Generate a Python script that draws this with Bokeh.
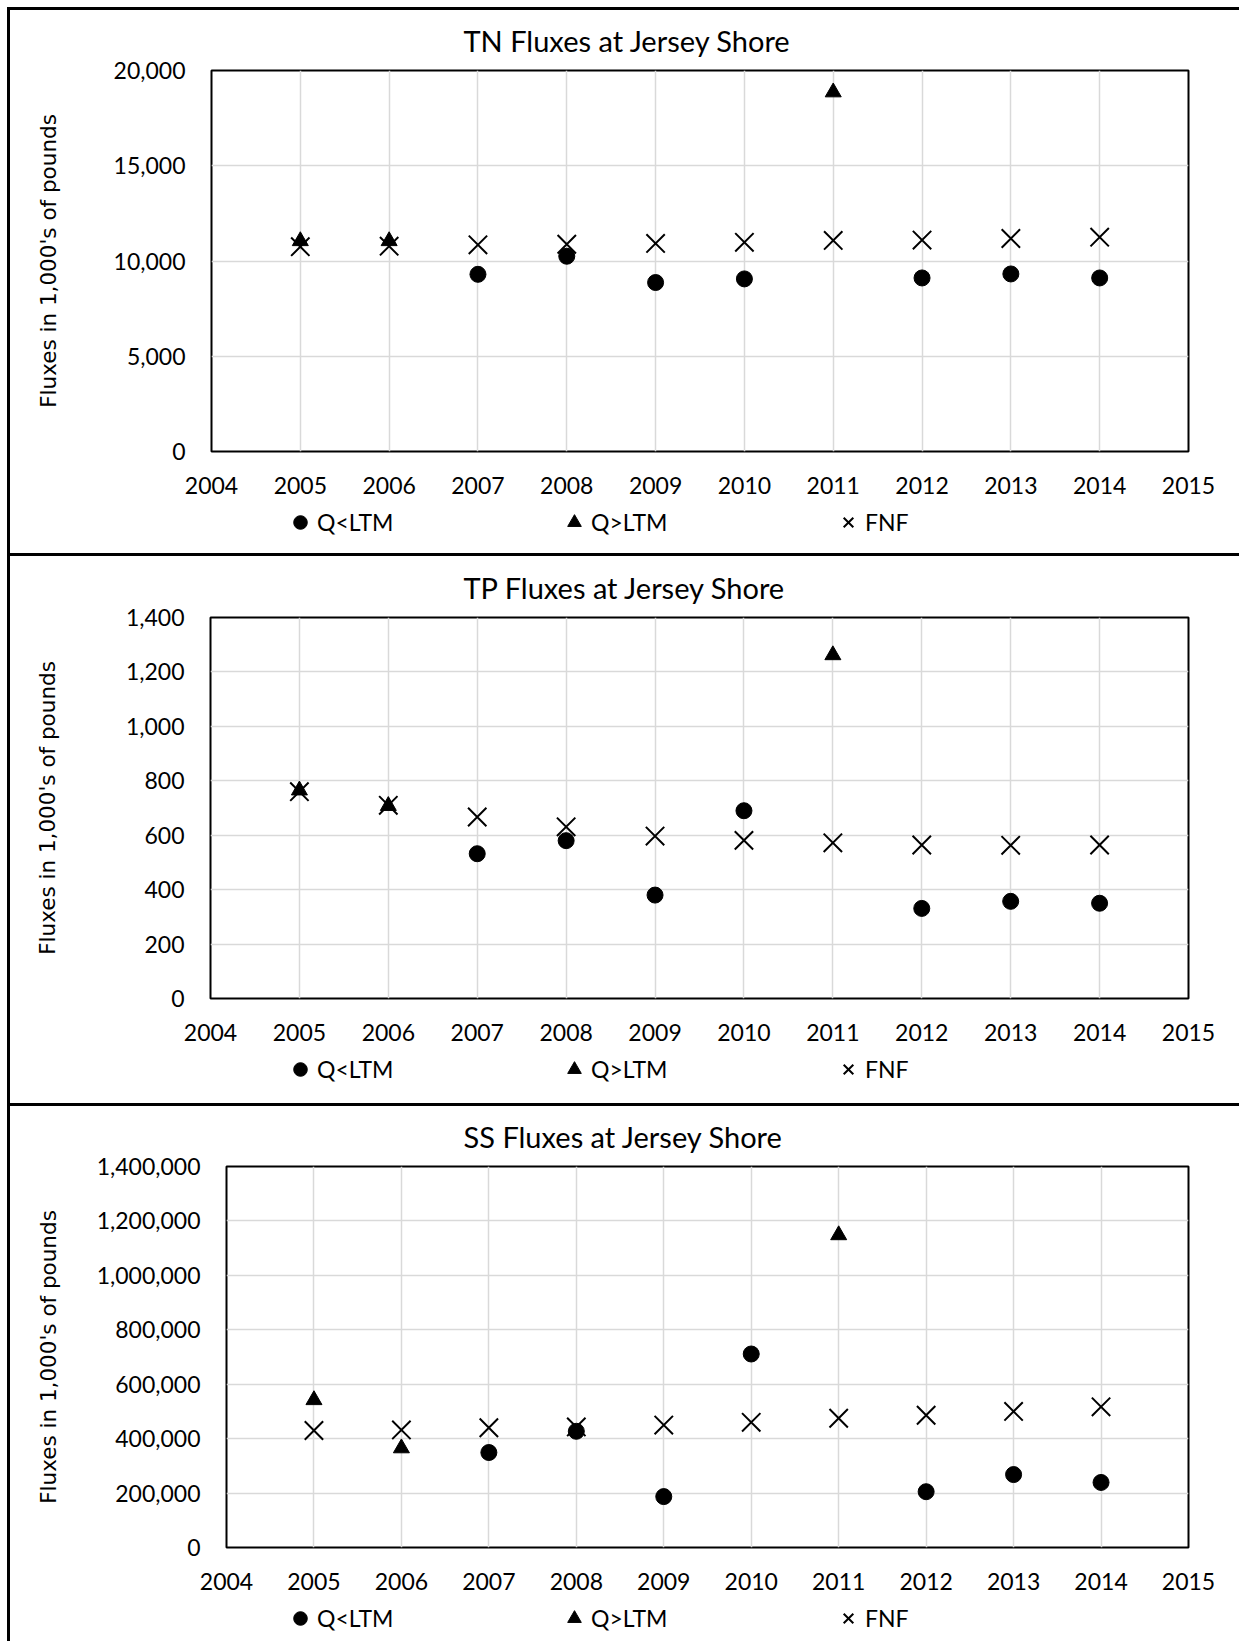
from bokeh.plotting import figure
from bokeh.models import FixedTicker, NumeralTickFormatter, Legend, LegendItem, Range1d
from bokeh.layouts import column, row
from bokeh.embed import file_html
from bokeh.resources import INLINE

# ---------------- data ----------------
x_ticks = list(range(2004, 2016))
fnf_years = list(range(2005, 2015))
lt_years = [2007, 2008, 2009, 2010, 2012, 2013, 2014]
gt_years = [2005, 2006, 2011]

tn_title = "TN Fluxes at Jersey Shore"
tn_lt = [9300, 10250, 8870, 9060, 9110, 9320, 9110]
tn_gt = [11050, 11050, 18860]
tn_fnf = [10750, 10780, 10850, 10880, 10920, 10980, 11080, 11100, 11180, 11250]
tn_ticks = [0, 5000, 10000, 15000, 20000]

tp_title = "TP Fluxes at Jersey Shore"
tp_lt = [532, 580, 380, 690, 331, 357, 350]
tp_gt = [765, 708, 1262]
tp_fnf = [760, 710, 667, 631, 597, 581, 572, 564, 563, 564]
tp_ticks = [0, 200, 400, 600, 800, 1000, 1200, 1400]

ss_title = "SS Fluxes at Jersey Shore"
ss_lt = [349000, 427000, 187000, 711000, 205000, 268000, 239000]
ss_gt = [542000, 365000, 1148000]
ss_fnf = [430000, 432000, 440000, 443000, 450000, 460000, 475000, 486000, 500000, 517000]
ss_ticks = [0, 200000, 400000, 600000, 800000, 1000000, 1200000, 1400000]

y_label = "Fluxes in 1,000's of pounds"
legend_labels = ["Q<LTM", "Q>LTM", "FNF"]

FONT = "Lato"
W = 1232
MBR = 54

MARK_FNF = dict(marker="x", size=26, line_color="black", line_width=2)
MARK_GT = dict(marker="triangle", size=16, color="black")
MARK_LT = dict(marker="circle", size=16, color="black")


def make_panel(title, lt, gt, fnf, ticks, height, mbl, mbt, mbb, label_standoff,
               title_offset, margin_top):
    p = figure(width=W, height=height, x_range=(x_ticks[0], x_ticks[-1]),
               y_range=(ticks[0], ticks[-1]), output_backend="svg",
               toolbar_location=None, min_border_left=mbl, min_border_right=MBR,
               min_border_top=mbt, min_border_bottom=mbb,
               background_fill_color="white", border_fill_color="white",
               styles={"border-top": "3px solid black",
                       "border-left": "3px solid black",
                       "margin-left": "7px",
                       "margin-top": f"{margin_top}px"})
    p.title.text = title
    p.title.text_font = FONT
    p.title.text_font_size = "29px"
    p.title.text_font_style = "normal"
    p.title.text_color = "black"
    p.title.align = "left"
    p.title.vertical_align = "top"
    p.title.offset = title_offset
    p.title.standoff = 22

    p.outline_line_color = "black"
    p.outline_line_width = 2
    p.outline_line_alpha = 1

    for ax in (p.xaxis[0], p.yaxis[0]):
        ax.axis_line_color = None
        ax.major_tick_line_color = None
        ax.minor_tick_line_color = None
        ax.major_tick_out = 0
        ax.major_tick_in = 0
        ax.major_label_text_font = FONT
        ax.major_label_text_font_size = "23px"
        ax.major_label_text_color = "black"

    p.xaxis.ticker = FixedTicker(ticks=x_ticks)
    p.xaxis.major_label_standoff = 25
    p.yaxis.ticker = FixedTicker(ticks=ticks)
    p.yaxis.formatter = NumeralTickFormatter(format="0,0")
    p.yaxis.major_label_standoff = 26
    p.yaxis.axis_label = y_label
    p.yaxis.axis_label_text_font = "DejaVu Sans"
    p.yaxis.axis_label_text_font_size = "21.5px"
    p.yaxis.axis_label_text_font_style = "normal"
    p.yaxis.axis_label_text_color = "black"
    p.yaxis.axis_label_standoff = label_standoff

    p.xgrid.ticker = FixedTicker(ticks=x_ticks)
    p.ygrid.ticker = FixedTicker(ticks=ticks)
    for g in (p.xgrid[0], p.ygrid[0]):
        g.grid_line_color = "#d9d9d9"
        g.grid_line_width = 1.5

    p.scatter(fnf_years, fnf, **MARK_FNF)
    p.scatter(gt_years, gt, **MARK_GT)
    p.scatter(lt_years, lt, **MARK_LT)
    return p


def make_legend(lt, gt, fnf, height, mbl, vy):
    # legend strip below each chart; its sample glyphs use the series data but
    # the strip's y-range lies below zero, so only the legend shows
    f = figure(width=W, height=height, output_backend="svg", toolbar_location=None,
               x_range=(x_ticks[0], x_ticks[-1]), y_range=Range1d(-1, 0),
               x_axis_location=None, y_axis_location=None,
               min_border_left=mbl, min_border_right=MBR, min_border_top=0,
               min_border_bottom=0, outline_line_color=None,
               background_fill_color="white", border_fill_color="white",
               styles={"border-left": "3px solid black", "margin-left": "7px"})
    f.grid.visible = False
    r_lt = f.scatter(lt_years, lt, **MARK_LT)
    r_gt = f.scatter(gt_years, gt, **MARK_GT)
    r_fnf = f.scatter(fnf_years, fnf, **MARK_FNF)
    legend = Legend(items=[LegendItem(label=legend_labels[0], renderers=[r_lt]),
                           LegendItem(label=legend_labels[1], renderers=[r_gt]),
                           LegendItem(label=legend_labels[2], renderers=[r_fnf])],
                    orientation="horizontal", location=(283 - 10 - mbl, vy),
                    glyph_width=34, glyph_height=34, label_standoff=0,
                    label_width=240, spacing=0, padding=0, margin=0,
                    border_line_color=None, background_fill_alpha=0,
                    label_text_font=FONT, label_text_font_size="23px",
                    label_text_color="black")
    f.add_layout(legend, "center")
    return f


p1 = make_panel(tn_title, tn_lt, tn_gt, tn_fnf, tn_ticks, 498, 201, 60, 57, 50, 252, 7)
l1 = make_legend(tn_lt, tn_gt, tn_fnf, 48, 201, 14)
p2 = make_panel(tp_title, tp_lt, tp_gt, tp_fnf, tp_ticks, 499, 200, 61, 57, 63, 253, 0)
l2 = make_legend(tp_lt, tp_gt, tp_fnf, 51, 200, 17)
p3 = make_panel(ss_title, ss_lt, ss_gt, ss_fnf, ss_ticks, 498, 216, 60, 57, 33, 237, 0)
l3 = make_legend(ss_lt, ss_gt, ss_fnf, 40, 216, 6)

layout = column(row(p1), row(l1), row(p2), row(l2), row(p3), row(l3), spacing=0)
open("out.html", "w").write(file_html(layout, INLINE))
